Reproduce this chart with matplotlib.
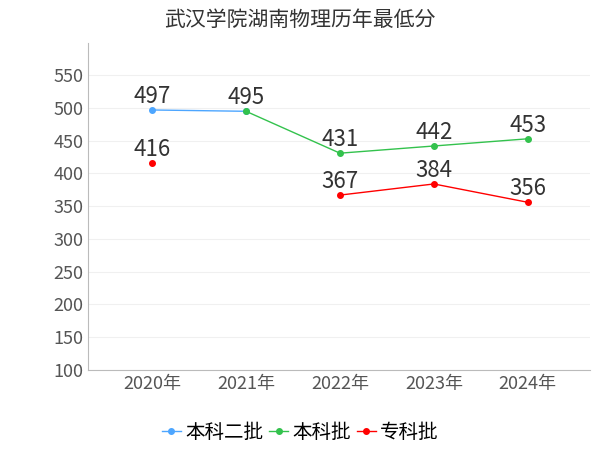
import matplotlib
matplotlib.use("Agg")
from matplotlib import pyplot as plt
import numpy as np

plt.rcParams["font.family"] = ["Noto Sans CJK SC", "Noto Sans CJK JP", "Noto Sans CJK TC",
                               "Noto Sans CJK KR", "DejaVu Sans"]

years = ["2020年", "2021年", "2022年", "2023年", "2024年"]
benke2 = [497, 495, None, None, None]
benke = [None, 495, 431, 442, 453]
zhuanke = [416, None, 367, 384, 356]

series = [("本科二批", benke2, "#4da6ff"), ("本科批", benke, "#33c24d"), ("专科批", zhuanke, "#ff0000")]

fig = plt.figure(figsize=(6, 4.5), dpi=100)
ax = fig.add_axes([0.147, 0.178, 0.836, 0.726])
x = np.arange(len(years))
for name, vals, color in series:
    y = np.array([np.nan if v is None else v for v in vals], dtype=float)
    ax.plot(x, y, color=color, lw=1, marker="o", ms=4, label=name)
    for xi, v in zip(x, vals):
        if v is not None and not (name == "本科二批" and xi == 1):
            ax.text(xi, v + 3, str(v), ha="center", va="bottom", fontsize=16, color="#333333")

ax.set_xlim(-0.68, 4.66)
ax.set_ylim(100, 599)
ax.set_yticks(range(100, 551, 50))
ax.set_xticks(x)
ax.set_xticklabels(years)
ax.tick_params(labelsize=13, colors="#555555", length=0)
ax.grid(axis="y", color="#f0f0f0", lw=0.8)
for s in ["top", "right"]:
    ax.spines[s].set_visible(False)
for s in ["left", "bottom"]:
    ax.spines[s].set_color("#bbbbbb")
fig.text(0.5, 0.955, "武汉学院湖南物理历年最低分", ha="center", va="center", fontsize=15, color="#333333")
fig.legend(loc="center", bbox_to_anchor=(0.5, 0.04), ncol=3, frameon=False, fontsize=14,
           handlelength=1, handletextpad=0.2, columnspacing=0.3)
fig.savefig("out.png")
